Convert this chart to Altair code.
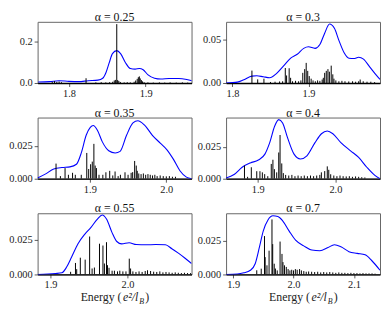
import altair as alt
import pandas as pd

FONT = "Liberation Serif"

TITLES = ["α = 0.25", "α = 0.3", "α = 0.35", "α = 0.4", "α = 0.55", "α = 0.7"]
XLABEL_PARTS = ["Energy (", "e²/l", "B", ")"]

# ---- alpha = 0.25 ----
C1_E = [1.7597, 1.7744, 1.787, 1.7997, 1.8124, 1.825, 1.8377, 1.844, 1.8484, 1.8525, 1.8567,
        1.8623, 1.8673, 1.8737, 1.88, 1.8863, 1.8918, 1.8968, 1.9032, 1.9116, 1.92, 1.9306,
        1.9433, 1.9538, 1.9605]
C1_V = [0.005, 0.0066, 0.011, 0.008, 0.0066, 0.011, 0.014, 0.023, 0.052, 0.098, 0.142,
        0.156, 0.142, 0.098, 0.070, 0.067, 0.070, 0.064, 0.039, 0.023, 0.019, 0.022,
        0.022, 0.017, 0.011]
S1_E = [1.778, 1.781, 1.784, 1.787, 1.790, 1.8222, 1.835, 1.842, 1.848, 1.853, 1.857, 1.859,
        1.8605, 1.8623, 1.8635, 1.865, 1.867, 1.872, 1.876, 1.880, 1.885, 1.887, 1.889,
        1.8905, 1.8918, 1.893, 1.8945, 1.896, 1.898, 1.903, 1.910, 1.918, 1.925, 1.932,
        1.940, 1.948, 1.955]
S1_H = [0.006, 0.009, 0.005, 0.007, 0.004, 0.023, 0.003, 0.004, 0.003, 0.004, 0.006, 0.012,
        0.015, 0.284, 0.014, 0.010, 0.005, 0.003, 0.004, 0.003, 0.006, 0.012, 0.020,
        0.028, 0.032, 0.022, 0.014, 0.008, 0.004, 0.003, 0.002, 0.003, 0.002, 0.003,
        0.002, 0.003, 0.002]

# ---- alpha = 0.3 ----
C2_E = [1.7916, 1.8064, 1.815, 1.8256, 1.832, 1.8405, 1.849, 1.8575, 1.8682, 1.8766, 1.8852,
        1.8937, 1.9, 1.9086, 1.915, 1.9213, 1.9277, 1.9341, 1.9405, 1.9469, 1.9533, 1.9596,
        1.966, 1.9724, 1.981, 1.9895, 1.9941]
C2_V = [0.0, 0.001, 0.0038, 0.0079, 0.0083, 0.0072, 0.0061, 0.0106, 0.0207, 0.0286, 0.0331,
        0.0399, 0.0417, 0.0399, 0.0444, 0.0574, 0.068, 0.063, 0.048, 0.0349, 0.0286, 0.0282,
        0.0297, 0.0275, 0.018, 0.0087, 0.0042]
S2_E = [1.8256, 1.8332, 1.8414, 1.850, 1.856, 1.862, 1.866, 1.8695, 1.8712, 1.8746, 1.8765,
        1.879, 1.883, 1.887, 1.890, 1.8925, 1.895, 1.897, 1.899, 1.901, 1.9035, 1.906, 1.909,
        1.912, 1.915, 1.918, 1.9195, 1.9213, 1.9234, 1.9256, 1.9275, 1.9299, 1.932, 1.9335,
        1.936, 1.940, 1.944, 1.948, 1.953, 1.958, 1.962, 1.966, 1.968, 1.972, 1.977, 1.982,
        1.987]
S2_H = [0.0143, 0.0042, 0.005, 0.0012, 0.0015, 0.0018, 0.002, 0.0173, 0.0087, 0.017, 0.006,
        0.002, 0.0025, 0.002, 0.003, 0.0117, 0.016, 0.0232, 0.014, 0.008, 0.005, 0.003, 0.002,
        0.003, 0.0025, 0.004, 0.006, 0.0117, 0.014, 0.016, 0.013, 0.020, 0.010, 0.005,
        0.003, 0.002, 0.0025, 0.002, 0.0018, 0.002, 0.0015, 0.002, 0.004, 0.002, 0.0015, 0.0015,
        0.001]

# ---- alpha = 0.35 ----
C3_E = [1.8317, 1.8423, 1.8528, 1.8635, 1.874, 1.8825, 1.8888, 1.8952, 1.9006, 1.9044, 1.9099,
        1.9162, 1.9247, 1.9332, 1.9396, 1.948, 1.9564, 1.9628, 1.9713, 1.9818, 1.9924, 2.0009,
        2.0094, 2.0178, 2.0263, 2.033]
C3_V = [0.0005, 0.0037, 0.0074, 0.0085, 0.009, 0.011, 0.0196, 0.033, 0.039, 0.0404, 0.0368,
        0.0282, 0.0213, 0.0196, 0.0208, 0.033, 0.0424, 0.0441, 0.0409, 0.033, 0.0269, 0.022,
        0.0147, 0.0061, 0.0012, 0.0]
S3_E = [1.8558, 1.8615, 1.8676, 1.872, 1.8774, 1.881, 1.8888, 1.896, 1.8985, 1.901, 1.9032,
        1.9053, 1.907, 1.9086, 1.912, 1.917, 1.921, 1.926, 1.930, 1.933, 1.937, 1.940, 1.946,
        1.950, 1.954, 1.956, 1.9586, 1.9607, 1.962, 1.964, 1.967, 1.970, 1.973, 1.976, 1.979,
        1.982, 1.985, 1.988, 1.992, 1.996, 2.000, 2.004, 2.008, 2.012]
S3_H = [0.0115, 0.002, 0.0081, 0.003, 0.0045, 0.003, 0.003, 0.0196, 0.0074, 0.011, 0.013,
        0.0265, 0.010, 0.0081, 0.003, 0.003, 0.0049, 0.006, 0.0025, 0.0055, 0.002, 0.003, 0.0049,
        0.003, 0.0045, 0.005, 0.0135, 0.010, 0.006, 0.004, 0.0035, 0.004, 0.003, 0.0035, 0.003,
        0.0025, 0.003, 0.002, 0.0025, 0.002, 0.0018, 0.002, 0.0015, 0.0015]

# ---- alpha = 0.4 ----
C4_E = [1.8593, 1.8696, 1.880, 1.8905, 1.9009, 1.9093, 1.9155, 1.9218, 1.9271, 1.9321, 1.9384,
        1.9468, 1.955, 1.9634, 1.9738, 1.9821, 1.9896, 1.9968, 2.0071, 2.0196, 2.030, 2.0405,
        2.0509, 2.0575]
C4_V = [0.0005, 0.0033, 0.009, 0.0124, 0.0147, 0.0193, 0.0283, 0.0412, 0.0464, 0.0438, 0.0322,
        0.0193, 0.0155, 0.018, 0.0283, 0.0353, 0.0374, 0.0353, 0.0283, 0.0219, 0.0167, 0.009,
        0.0026, 0.0]
S4_E = [1.883, 1.887, 1.8918, 1.8988, 1.9029, 1.906, 1.909, 1.913, 1.9175, 1.9196, 1.9215,
        1.9245, 1.9271, 1.9288, 1.931, 1.933, 1.936, 1.940, 1.944, 1.948, 1.952, 1.956, 1.960,
        1.964, 1.968, 1.972, 1.976, 1.980, 1.982, 1.9863, 1.9896, 1.9915, 1.994, 1.998, 2.002,
        2.006, 2.010, 2.014, 2.018, 2.022, 2.026, 2.030, 2.034, 2.038]
S4_H = [0.0103, 0.0015, 0.009, 0.0059, 0.0059, 0.005, 0.0036, 0.002, 0.0116, 0.0149, 0.0075,
        0.005, 0.0206, 0.0343, 0.012, 0.0044, 0.003, 0.0025, 0.003, 0.002, 0.0025, 0.002, 0.0025,
        0.002, 0.0025, 0.002, 0.0025, 0.003, 0.005, 0.006, 0.0097, 0.007, 0.0035, 0.0025, 0.002,
        0.0025, 0.002, 0.0018, 0.002, 0.0015, 0.0018, 0.0015, 0.0012, 0.001]

# ---- alpha = 0.55 ----
C5_E = [1.8832, 1.9063, 1.9147, 1.9211, 1.9274, 1.9357, 1.9441, 1.9526, 1.9609, 1.9672, 1.9727,
        1.9798, 1.9861, 1.9924, 2.0021, 2.0114, 2.024, 2.0366, 2.0492, 2.0576, 2.0661, 2.0744,
        2.0832]
C5_V = [0.0, 0.0007, 0.0012, 0.0055, 0.0126, 0.0222, 0.0288, 0.034, 0.040, 0.0429, 0.040,
        0.0304, 0.0238, 0.0221, 0.0229, 0.0216, 0.0214, 0.0216, 0.0214, 0.0186, 0.0154, 0.0119,
        0.0079]
S5_E = [1.9261, 1.9324, 1.934, 1.9387, 1.945, 1.9508, 1.954, 1.957, 1.9636, 1.9681, 1.970,
        1.9727, 1.974, 1.976, 1.980, 1.983, 1.987, 1.990, 1.994, 1.998, 2.0023, 2.004, 2.007,
        2.011, 2.015, 2.019, 2.023, 2.026, 2.030, 2.034, 2.038, 2.042, 2.046, 2.050, 2.054,
        2.058, 2.062, 2.066, 2.070, 2.074, 2.078, 2.082]
S5_H = [0.0019, 0.0083, 0.0038, 0.0121, 0.0107, 0.0274, 0.0043, 0.005, 0.0222, 0.0209, 0.0079,
        0.0233, 0.0067, 0.0048, 0.0027, 0.0027, 0.0022, 0.0027, 0.0022, 0.0022, 0.0114, 0.0043,
        0.0022, 0.0018, 0.0022, 0.0018, 0.0025, 0.003, 0.0025, 0.002, 0.0018, 0.0022, 0.0015,
        0.0018, 0.0015, 0.0012, 0.0015, 0.0012, 0.001, 0.0012, 0.001, 0.001]

# ---- alpha = 0.7 ----
C6_E = [1.8883, 1.907, 1.9177, 1.9285, 1.9365, 1.9434, 1.9498, 1.9579, 1.9659, 1.974, 1.982,
        1.9928, 2.0034, 2.0169, 2.0302, 2.0436, 2.0571, 2.0677, 2.0785, 2.0918, 2.1053, 2.1186,
        2.1294, 2.1432]
C6_V = [0.0, 0.0003, 0.0012, 0.0031, 0.008, 0.0201, 0.0323, 0.0408, 0.0437, 0.0432, 0.040,
        0.0323, 0.0255, 0.0213, 0.0182, 0.0177, 0.0201, 0.0221, 0.0206, 0.017, 0.0157, 0.0146,
        0.0104, 0.0031]
S6_E = [1.9391, 1.9465, 1.9519, 1.953, 1.956, 1.9595, 1.9643, 1.9655, 1.968, 1.970, 1.973,
        1.9777, 1.9809, 1.9825, 1.985, 1.988, 1.991, 1.994, 1.997, 2.000, 2.003, 2.006, 2.010,
        2.013, 2.017, 2.021, 2.025, 2.030, 2.035, 2.040, 2.045, 2.050, 2.055, 2.060, 2.065,
        2.070, 2.075, 2.080, 2.085, 2.090, 2.095, 2.100, 2.105, 2.110, 2.115, 2.120, 2.125,
        2.130, 2.135]
S6_H = [0.0031, 0.0043, 0.0286, 0.0129, 0.0068, 0.0177, 0.041, 0.0226, 0.008, 0.0044, 0.003,
        0.0245, 0.0153, 0.0092, 0.0068, 0.0056, 0.004, 0.003, 0.0035, 0.003, 0.004, 0.0035, 0.004,
        0.003, 0.0025, 0.002, 0.0022, 0.002, 0.0018, 0.002, 0.0015, 0.0018, 0.0015, 0.0018,
        0.0015, 0.0012, 0.0015, 0.0012, 0.0012, 0.001, 0.0012, 0.001, 0.001, 0.0008, 0.001,
        0.0008, 0.0008, 0.0008, 0.0006]

X_DOMAINS = [[1.7589, 1.960], [1.7916, 1.9941], [1.8317, 2.033],
             [1.8593, 2.0575], [1.8832, 2.0832], [1.8883, 2.1432]]
Y_DOMAINS = [[0, 0.295], [0, 0.0705], [0, 0.0465], [0, 0.048], [0, 0.0442], [0, 0.0456]]
X_TICKS = [[1.8, 1.9], [1.8, 1.9], [1.9, 2.0], [1.9, 2.0], [1.9, 2.0], [1.9, 2.0, 2.1]]
Y_TICKS = [[0, 0.2], [0, 0.05], [0, 0.025], [0, 0.025], [0, 0.025], [0, 0.025]]
Y_FORMATS = [".1f", ".2f", ".3f", ".3f", ".3f", ".3f"]

CURVES = [(C1_E, C1_V), (C2_E, C2_V), (C3_E, C3_V), (C4_E, C4_V), (C5_E, C5_V), (C6_E, C6_V)]
STICKS = [(S1_E, S1_H), (S2_E, S2_H), (S3_E, S3_H), (S4_E, S4_H), (S5_E, S5_H), (S6_E, S6_H)]

W, H = 156, 62


def make_panel(i):
    cE, cV = CURVES[i]
    sE, sH = STICKS[i]
    xs = alt.Scale(domain=X_DOMAINS[i], nice=False, zero=False)
    ys = alt.Scale(domain=Y_DOMAINS[i], nice=False)
    xax = alt.Axis(values=X_TICKS[i], format=".1f", title=None)
    yax = alt.Axis(values=Y_TICKS[i], format=Y_FORMATS[i], title=None)
    curve = alt.Chart(pd.DataFrame({"E": cE, "v": cV})).mark_line(
        color="#0000ff", strokeWidth=1.1, interpolate="monotone", clip=True
    ).encode(x=alt.X("E:Q", scale=xs, axis=xax), y=alt.Y("v:Q", scale=ys, axis=yax))
    sticks = alt.Chart(pd.DataFrame({"E": sE, "h": sH})).mark_rule(
        color="black", strokeWidth=1, clip=True
    ).encode(x="E:Q", y="h:Q", y2=alt.datum(0))
    layers = [curve, sticks]
    if i >= 4:
        P = 85
        specs = [
            (XLABEL_PARTS[0], P, "right", "normal", 12, 0),
            (XLABEL_PARTS[1], P + 1.5, "left", "italic", 12, 0),
            (XLABEL_PARTS[2], P + 18, "left", "italic", 8, 3),
            (XLABEL_PARTS[3], P + 24, "left", "normal", 12, 0),
        ]
        for txt, xp, al, st, fs, dy in specs:
            layers.append(
                alt.Chart(pd.DataFrame({"t": [txt]})).mark_text(
                    align=al, baseline="alphabetic", font=FONT, fontSize=fs,
                    fontStyle=st, color="#222222", dy=dy
                ).encode(text="t:N", x=alt.value(xp), y=alt.value(H + 27))
            )
    return alt.layer(*layers).properties(
        width=W, height=H,
        title=alt.TitleParams(TITLES[i], fontSize=12, font=FONT, fontWeight="normal",
                              offset=-2, color="#111111", anchor="middle"),
    )


panels = [make_panel(i) for i in range(6)]

chart = (
    alt.concat(*panels, columns=2, spacing={"row": 6, "column": 4})
    .properties(padding={"left": 0, "top": 0, "right": 0, "bottom": 0})
    .configure_view(stroke="#666666", strokeWidth=1)
    .configure_axis(labelFont=FONT, labelFontSize=10.5, labelColor="#222222",
                    tickColor="#333333", tickSize=3.5, tickWidth=0.8, labelPadding=2, grid=False)
    .configure_axisX(domain=True, domainColor="black", domainWidth=1.3)
    .configure_axisY(domain=False)
)

chart.save("out.html", embed_options={"renderer": "svg", "actions": False})
